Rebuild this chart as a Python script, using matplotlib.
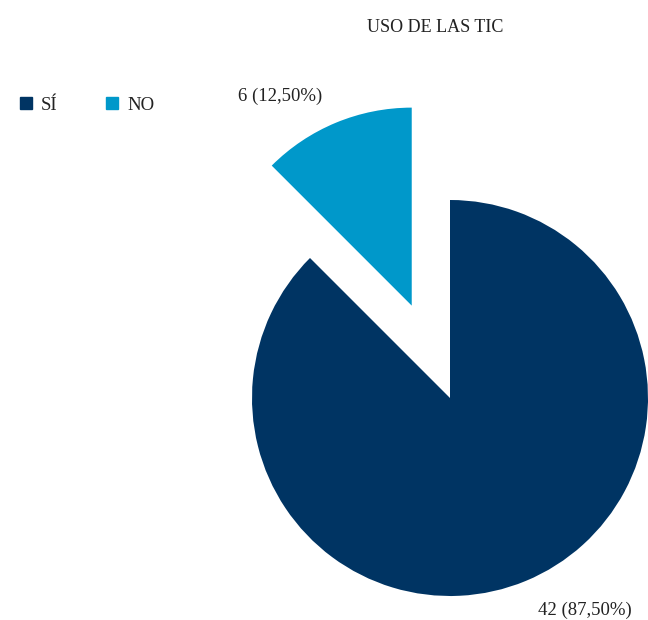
import matplotlib
matplotlib.use("Agg")
import matplotlib.pyplot as plt
from matplotlib.lines import Line2D

plt.rcParams['font.family'] = ['Liberation Serif', 'DejaVu Serif']

title = "USO DE LAS TIC"
categories = ["SÍ", "NO"]
counts = [42, 6]
colors = ["#003463", "#0098CA"]

total = sum(counts)
labels = [f"{c} ({c / total * 100:.2f}%)".replace(".", ",") for c in counts]

W, H = 648, 620
fig = plt.figure(figsize=(W / 100, H / 100), dpi=100)
ax = fig.add_axes([0, 0, 1, 1])

R = 198
cx, cy = 450, H - 398
explode_frac = [0, 0.505]
ax.pie(counts, colors=colors, startangle=90, counterclock=False,
       explode=[e * R for e in explode_frac], radius=R, center=(cx, cy), frame=True,
       wedgeprops=dict(linewidth=0))
ax.set_xlim(0, W)
ax.set_ylim(0, H)
ax.set_aspect('equal')
ax.axis('off')

ax.text(585, H - 610, labels[0], ha='center', va='center', fontsize=13.5, color='#222222')
ax.text(280, H - 96, labels[1], ha='center', va='center', fontsize=13.5, color='#222222')
ax.text(435, H - 27, title, ha='center', va='center', fontsize=13, color='#222222')

handles = [Line2D([0], [0], marker='s', linestyle='none', markersize=9,
                  markerfacecolor=c, markeredgecolor=c) for c in colors]
fig.legend(handles, categories, loc='center left', bbox_to_anchor=(0.0, 1 - 105 / H),
           ncol=2, frameon=False, fontsize=13.5, handletextpad=0.3, columnspacing=2.4,
           handlelength=1.0, labelcolor='#222222')

fig.savefig("out.png", dpi=100)
